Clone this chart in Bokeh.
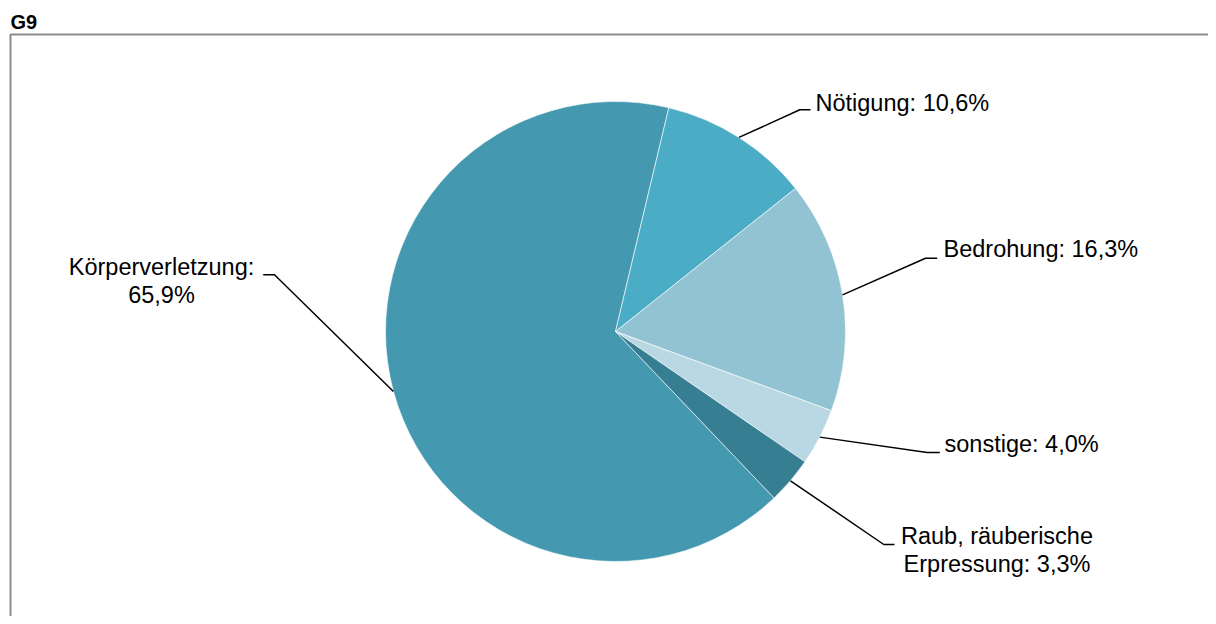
import numpy as np
from bokeh.plotting import figure
from bokeh.models import Range1d
from bokeh.core.properties import value
from bokeh.embed import file_html
from bokeh.resources import INLINE

# ---- data ----
categories = ["Körperverletzung", "Nötigung", "Bedrohung", "sonstige",
              "Raub, räuberische Erpressung"]
shares = [65.9, 10.6, 16.3, 4.0, 3.3]
label_lines = [["Körperverletzung:", "65,9%"],
               ["Nötigung: 10,6%"],
               ["Bedrohung: 16,3%"],
               ["sonstige: 4,0%"],
               ["Raub, räuberische", "Erpressung: 3,3%"]]
colors = ["#4499b0", "#4aacc5", "#92c3d3", "#bad8e4", "#367f93"]
title_text = "G9"

# ---- layout ----
W, H = 1208, 616
TXT_DY = -9  # compensation for text baseline rendering
def sx(x): return x
def sy(y): return H - y

cx, cy, R = sx(615), sy(331), 230
first_end_deg = 13.4  # clockwise from top, end of first slice

vals = np.array(shares, dtype=float)
frac = vals / vals.sum()
cum = np.concatenate([[0], np.cumsum(frac)]) * 360.0
c0 = first_end_deg - cum[1] + cum[:-1]
c1 = first_end_deg - cum[1] + cum[1:]
mid = (c0 + c1) / 2
def to_math(c): return np.pi / 2 - np.radians(c)

p = figure(width=W, height=H, output_backend="svg", toolbar_location=None,
           x_range=Range1d(0, W), y_range=Range1d(0, H), min_border=0,
           outline_line_color=None)
p.axis.visible = False
p.grid.visible = False
p.background_fill_color = "white"
p.border_fill_color = "white"

# border box
p.line([sx(10), sx(10), W + 5], [-5, sy(34), sy(34)], line_color="#8c8c8c", line_width=2)

# title
p.text([sx(10)], [sy(30 + TXT_DY)], text=[title_text], text_font=value("Liberation Sans"),
       text_font_size="20px", text_font_style="bold", text_baseline="alphabetic",
       text_color="black")

# pie
p.wedge(x=cx, y=cy, radius=R, start_angle=to_math(c0), end_angle=to_math(c1),
        direction="clock", fill_color=colors, line_color="white", line_width=0.6)

# leader lines: elbow and end (screen px)
elbows = [((274, 274.3), (262.7, 274.3)),
          ((799.3, 109.3), (810, 109.3)),
          ((925, 257.7), (936.7, 257.7)),
          ((926.7, 452), (939.3, 452)),
          ((883.3, 544), (894, 544))]
xs, ys = [], []
for m, (e1, e2) in zip(mid, elbows):
    a = to_math(m)
    xs.append([cx + R * np.cos(a), sx(e1[0]), sx(e2[0])])
    ys.append([cy + R * np.sin(a), sy(e1[1]), sy(e2[1])])
p.multi_line(xs, ys, line_color="black", line_width=1.5)

# labels: (x, baseline y, align) screen px
anchors = [(161, 275, "center"), (815, 111, "left"), (943, 257, "left"),
           (944, 452, "left"), (996.5, 544, "center")]
lh = 28
for lines, (ax, ay, al) in zip(label_lines, anchors):
    for k, t in enumerate(lines):
        p.text([sx(ax)], [sy(ay + k * lh + TXT_DY)], text=[t], text_font=value("Liberation Sans"),
               text_font_size="23.5px", text_align=al, text_baseline="alphabetic",
               text_color="black")

open("out.html", "w").write(file_html(p, INLINE))
